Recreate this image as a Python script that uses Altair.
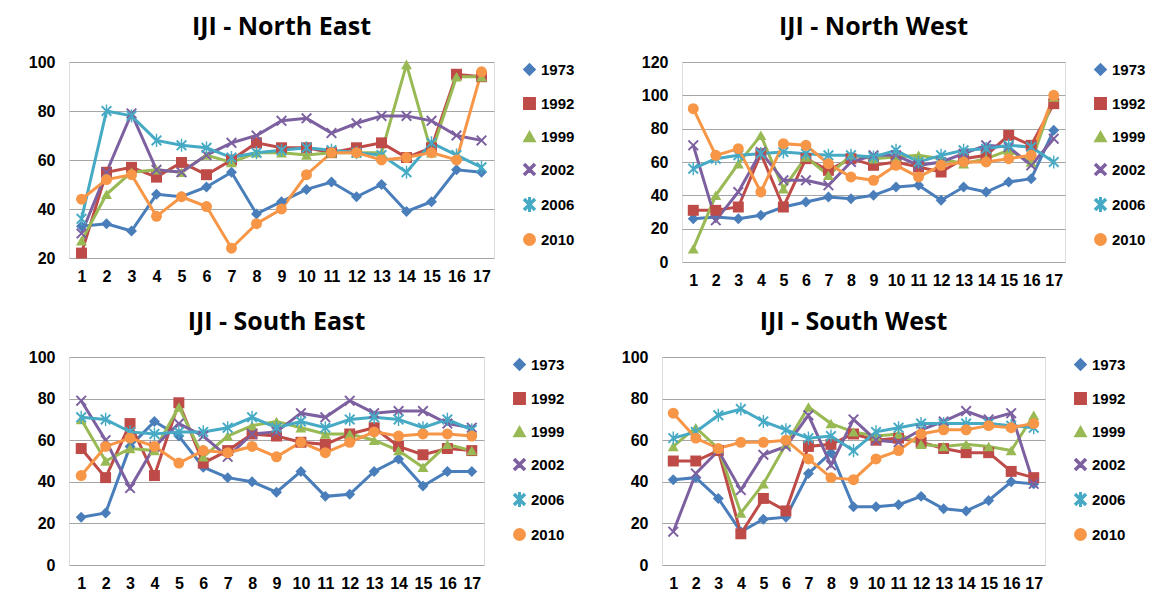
import altair as alt
import pandas as pd

YEARS = ["1973", "1992", "1999", "2002", "2006", "2010"]
STATIONS = list(range(1, 18))

ne_1973 = [33, 34, 31, 46, 45, 49, 55, 38, 43, 48, 51, 45, 50, 39, 43, 56, 55]
ne_1992 = [22, 55, 57, 53, 59, 54, 60, 67, 65, 65, 63, 65, 67, 61, 65, 95, 94]
ne_1999 = [27, 46, 55, 56, 55, 62, 59, 63, 63, 62, 63, 63, 63, 99, 63, 94, 94]
ne_2002 = [30, 55, 79, 56, 55, 62, 67, 70, 76, 77, 71, 75, 78, 78, 76, 70, 68]
ne_2006 = [36, 80, 78, 68, 66, 65, 61, 63, 64, 65, 64, 63, 62, 55, 67, 62, 57]
ne_2010 = [44, 52, 54, 37, 45, 41, 24, 34, 40, 54, 63, 63, 60, 61, 63, 60, 96]

nw_1973 = [26, 27, 26, 28, 33, 36, 39, 38, 40, 45, 46, 37, 45, 42, 48, 50, 79]
nw_1992 = [31, 31, 33, 65, 33, 62, 55, 62, 58, 60, 57, 54, 62, 64, 76, 70, 95]
nw_1999 = [8, 40, 59, 76, 44, 63, 52, 64, 62, 63, 64, 62, 59, 62, 67, 60, 99]
nw_2002 = [70, 25, 42, 66, 49, 49, 46, 60, 64, 64, 58, 60, 65, 70, 69, 58, 74]
nw_2006 = [56, 62, 64, 65, 66, 65, 64, 64, 63, 67, 60, 64, 67, 68, 70, 69, 60]
nw_2010 = [92, 64, 68, 42, 71, 70, 59, 51, 49, 58, 51, 58, 60, 60, 62, 64, 100]

se_1973 = [23, 25, 57, 69, 62, 47, 42, 40, 35, 45, 33, 34, 45, 51, 38, 45, 45]
se_1992 = [56, 42, 68, 43, 78, 49, 55, 63, 62, 59, 58, 63, 66, 57, 53, 56, 55]
se_1999 = [70, 50, 56, 55, 76, 52, 62, 67, 69, 66, 63, 63, 60, 55, 47, 58, 55]
se_2002 = [79, 60, 37, 57, 68, 62, 52, 63, 64, 73, 71, 79, 73, 74, 74, 68, 66]
se_2006 = [71, 70, 64, 63, 64, 64, 66, 71, 66, 69, 66, 70, 71, 70, 66, 70, 65]
se_2010 = [43, 57, 61, 57, 49, 55, 54, 57, 52, 59, 54, 59, 64, 62, 63, 63, 62]

sw_1973 = [41, 42, 32, 16, 22, 23, 44, 54, 28, 28, 29, 33, 27, 26, 31, 40, 39]
sw_1992 = [50, 50, 55, 15, 32, 26, 57, 58, 63, 60, 61, 59, 56, 54, 54, 45, 42]
sw_1999 = [57, 66, 56, 25, 39, 58, 76, 68, 64, 62, 63, 58, 57, 58, 57, 55, 72]
sw_2002 = [16, 44, 55, 36, 53, 57, 72, 48, 70, 60, 59, 65, 69, 74, 70, 73, 39]
sw_2006 = [61, 64, 72, 75, 69, 65, 61, 62, 55, 64, 66, 68, 68, 68, 68, 67, 66]
sw_2010 = [73, 61, 56, 59, 59, 60, 51, 42, 41, 51, 55, 63, 65, 65, 67, 66, 68]

_COLORS = ["#4a7ebb", "#be4b48", "#98b954", "#7d60a0", "#46aac5", "#f79646"]
_X = "M-1,-0.75L-0.75,-1L0,-0.25L0.75,-1L1,-0.75L0.25,0L1,0.75L0.75,1L0,0.25L-0.75,1L-1,0.75L-0.25,0Z"
_STAR = _X + "M-0.13,-1.2L0.13,-1.2L0.13,1.2L-0.13,1.2Z"
_SHAPES = ["diamond", "square", "triangle-up", _X, _STAR, "circle"]
_FONT = "Open Sans"


def panel(title, series, y_min, ymax, width, height):
    rows = []
    for year, values in zip(YEARS, series):
        for station, v in zip(STATIONS, values):
            rows.append({"station": station, "year": year, "value": v})
    df = pd.DataFrame(rows)
    x = alt.X("station:O", title=None,
              axis=alt.Axis(labelAngle=0, labelFontSize=16, labelFontWeight="bold",
                            labelColor="#000", domain=False, ticks=False, labelPadding=10))
    y = alt.Y("value:Q", title=None, scale=alt.Scale(domain=[y_min, ymax], nice=False),
              axis=alt.Axis(tickCount=int((ymax - y_min) / 20), labelFontSize=16,
                            labelFontWeight="bold", labelColor="#000", domain=False,
                            ticks=False, labelPadding=14, gridColor="#a6a6a6",
                            minExtent=60))
    color = alt.Color("year:N", scale=alt.Scale(domain=YEARS, range=_COLORS),
                      legend=alt.Legend(title=None, labelFontSize=15, labelFontWeight="bold",
                                        symbolSize=130, rowPadding=15, offset=28))
    shape = alt.Shape("year:N", scale=alt.Scale(domain=YEARS, range=_SHAPES))
    base = alt.Chart(df)
    lines = base.mark_line(strokeWidth=3).encode(x=x, y=y, color=color)
    points = base.mark_point(filled=True, size=120, opacity=1).encode(
        x=x, y=y, color=color, shape=shape)
    return (lines + points).properties(
        width=width, height=height,
        title=alt.TitleParams(title, fontSize=25, fontWeight="bold", font=_FONT, offset=14),
    )


ne = panel("IJI - North East", [ne_1973, ne_1992, ne_1999, ne_2002, ne_2006, ne_2010], 20, 100, 425, 196)
nw = panel("IJI - North West", [nw_1973, nw_1992, nw_1999, nw_2002, nw_2006, nw_2010], 0, 120, 383, 200)
se = panel("IJI - South East", [se_1973, se_1992, se_1999, se_2002, se_2006, se_2010], 0, 100, 415, 208)
sw = panel("IJI - South West", [sw_1973, sw_1992, sw_1999, sw_2002, sw_2006, sw_2010], 0, 100, 383, 208)

top = alt.hconcat(ne, nw, spacing=45).resolve_scale(color="independent", shape="independent")
bottom = alt.hconcat(se, sw, spacing=35).resolve_scale(color="independent", shape="independent")

chart = (
    alt.vconcat(top, bottom, spacing=20)
    .resolve_scale(color="independent", shape="independent")
    .configure_view(stroke="#a6a6a6")
    .configure_axis(labelFont=_FONT)
    .configure_legend(labelFont=_FONT)
    .configure(background="white", padding={"top": 6, "left": 0, "right": 0, "bottom": 0})
)

chart.save("out.html", embed_options={"renderer": "svg", "actions": False})
